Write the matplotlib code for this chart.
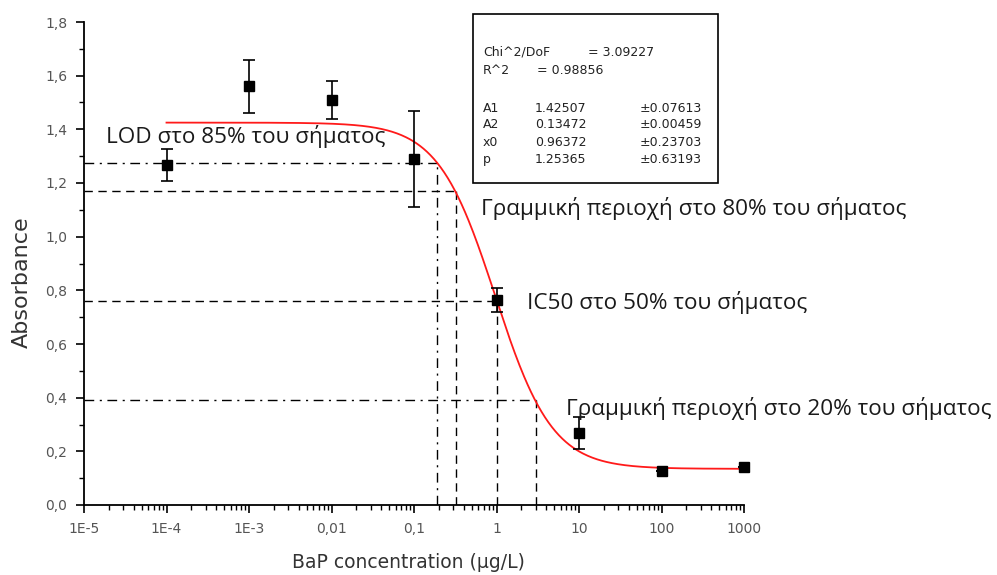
import numpy as np
import matplotlib
matplotlib.use("Agg")
import matplotlib.pyplot as plt
from matplotlib.ticker import FixedLocator, LogLocator, NullFormatter, MultipleLocator
from matplotlib.patches import Rectangle

# ---- data ----
conc = [1e-4, 1e-3, 1e-2, 0.1, 1, 10, 100, 1000]
absorb = [1.267, 1.56, 1.51, 1.29, 0.764, 0.268, 0.127, 0.14]
err = [0.06, 0.10, 0.07, 0.18, 0.045, 0.06, 0.0, 0.0]

A1, A2, x0, p = 1.42507, 0.13472, 0.96372, 1.25365
A1_err, A2_err, x0_err, p_err = 0.07613, 0.00459, 0.23703, 0.63193
chi2dof, r2 = 3.09227, 0.98856

ref_levels = [1.275, 1.17, 0.76, 0.39]
ref_conc = [0.19, 0.32, 1.0, 3.0]
ref_styles = [(0, (7, 4, 1.5, 4)), (0, (6, 4)), (0, (6, 4)), (0, (7, 4, 1.5, 4))]
ref_vstyles = [(0, (7, 4, 1.5, 4)), (0, (6, 4)), (0, (6, 4)), (0, (6, 4))]

xticks = [1e-5, 1e-4, 1e-3, 1e-2, 0.1, 1, 10, 100, 1000]
xticklabels = ["1E-5", "1E-4", "1E-3", "0,01", "0,1", "1", "10", "100", "1000"]
yticks = [0.0, 0.2, 0.4, 0.6, 0.8, 1.0, 1.2, 1.4, 1.6, 1.8]
yticklabels = ["0,0", "0,2", "0,4", "0,6", "0,8", "1,0", "1,2", "1,4", "1,6", "1,8"]

annotations = [
    ("LOD στο 85% του σήματος", 106, 137),
    ("Γραμμική περιοχή στο 80% του σήματος", 481, 208),
    ("IC50 στο 50% του σήματος", 527, 302),
    ("Γραμμική περιοχή στο 20% του σήματος", 566, 408),
]

W, H = 997, 575
fig = plt.figure(figsize=(W / 100, H / 100), dpi=100)
ax = fig.add_axes([84 / W, 1 - 505 / H, (744 - 84) / W, (505 - 22) / H])

def fx(px):
    return px / W

def fy(py):
    return 1 - py / H

# reference lines
for lvl, c, hs, vs in zip(ref_levels, ref_conc, ref_styles, ref_vstyles):
    ax.plot([1e-5, c], [lvl, lvl], color="black", lw=1.0, linestyle=hs, zorder=2)
    ax.plot([c, c], [0, lvl], color="black", lw=1.0, linestyle=vs, zorder=2)

# fit curve
xc = np.logspace(-4, 3, 500)
yc = A2 + (A1 - A2) / (1 + (xc / x0) ** p)
ax.plot(xc, yc, color="#ff1a1a", lw=1.3, zorder=3, clip_on=False)

# data
eb = ax.errorbar(conc, absorb, yerr=err, fmt="s", color="black", ms=6.5,
                 ecolor="black", elinewidth=1.2, capsize=4, capthick=1.2, zorder=4)
for art in eb.lines[0:1] + tuple(eb.lines[1]) + tuple(eb.lines[2]):
    art.set_clip_on(False)

ax.set_xscale("log")
ax.set_xlim(1e-5, 1000)
ax.set_ylim(0, 1.8)
ax.xaxis.set_major_locator(FixedLocator(xticks))
ax.set_xticklabels(xticklabels)
ax.xaxis.set_minor_locator(LogLocator(base=10, subs=np.arange(2, 10), numticks=20))
ax.xaxis.set_minor_formatter(NullFormatter())
ax.set_yticks(yticks)
ax.set_yticklabels(yticklabels)
ax.yaxis.set_minor_locator(MultipleLocator(0.1))

for s in ["top", "right"]:
    ax.spines[s].set_visible(False)
for s in ["left", "bottom"]:
    ax.spines[s].set_linewidth(1.3)

ax.tick_params(axis="both", which="major", direction="out", length=6, width=1.2,
               labelsize=10, labelcolor="#555555", pad=6)
ax.tick_params(axis="both", which="minor", direction="out", length=3.5, width=1.0)
for lab in ax.get_xticklabels() + ax.get_yticklabels():
    lab.set_family("DejaVu Sans")

fig.text(fx(22), fy(282), "Absorbance", rotation=90,
         ha="center", va="center", fontsize=16, color="#333333", family="DejaVu Sans")
fig.text(fx(408), fy(563), "BaP concentration (µg/L)", ha="center", va="center",
         fontsize=13.5, color="#333333", family="DejaVu Sans")

for txt, px, py in annotations:
    fig.text(fx(px), fy(py), txt, ha="left", va="center", fontsize=16.2,
             color="#1a1a1a", family="Open Sans")

# parameter box
fig.patches.append(Rectangle((fx(473), fy(183)), (718 - 473) / W, (183 - 14) / H,
                             transform=fig.transFigure, fill=True, facecolor="white",
                             edgecolor="black", lw=1.2, zorder=5))
bkw = dict(fontsize=9, color="#222222", family="DejaVu Sans", va="center", zorder=6)
fig.text(fx(483), fy(52), "Chi^2/DoF", **bkw)
fig.text(fx(588), fy(52), f"= {chi2dof:.5f}", **bkw)
fig.text(fx(483), fy(70), "R^2", **bkw)
fig.text(fx(537), fy(70), f"= {r2:.5f}", **bkw)
rows = [("A1", A1, A1_err, 108), ("A2", A2, A2_err, 125),
        ("x0", x0, x0_err, 142), ("p", p, p_err, 160)]
for name, v, e, py in rows:
    fig.text(fx(483), fy(py), name, **bkw)
    fig.text(fx(535), fy(py), f"{v:.5f}", **bkw)
    fig.text(fx(640), fy(py), f"±{e:.5f}", **bkw)

fig.savefig("out.png", dpi=100)
